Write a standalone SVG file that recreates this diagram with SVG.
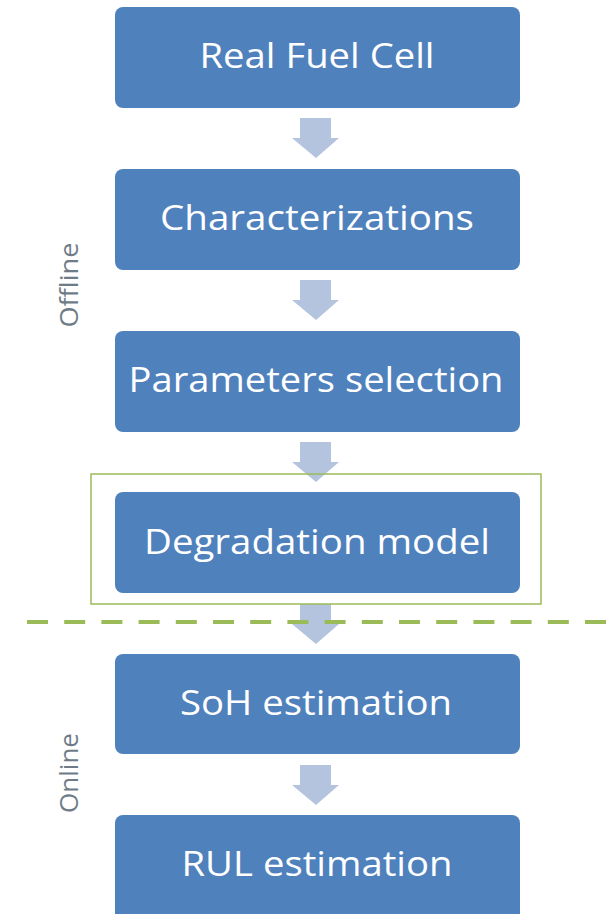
<svg xmlns="http://www.w3.org/2000/svg" width="611" height="914" viewBox="0 0 611 914">
<style>
.box{fill:#4F81BD;}
.lbl{font-family:"Open Sans","Noto Sans",sans-serif;font-size:35px;fill:#FFFFFF;text-anchor:middle;}
.arr{fill:#B4C4DF;}
.side{font-family:"Open Sans","Noto Sans",sans-serif;font-size:25px;fill:#6F7C87;text-anchor:middle;}
</style>
<defs>
<path id="dn" d="M-16,0 H15 V20 H23 L0,40 L-24,20 H-16 Z"/>
</defs>
<g id="connectors">
<use href="#dn" class="arr" x="316" y="118"/>
<use href="#dn" class="arr" x="316" y="280"/>
<use href="#dn" class="arr" x="316" y="442"/>
<use href="#dn" class="arr" x="316" y="604"/>
<use href="#dn" class="arr" x="316" y="765"/>
</g>
<g id="n1"><rect class="box" x="115" y="7" width="405" height="101" rx="8"/><text class="lbl" x="317" y="68" textLength="235" lengthAdjust="spacingAndGlyphs">Real Fuel Cell</text></g>
<g id="n2"><rect class="box" x="115" y="169" width="405" height="101" rx="8"/><text class="lbl" x="317" y="230" textLength="314" lengthAdjust="spacingAndGlyphs">Characterizations</text></g>
<g id="n3"><rect class="box" x="115" y="331" width="405" height="101" rx="8"/><text class="lbl" x="316" y="392" textLength="375" lengthAdjust="spacingAndGlyphs">Parameters selection</text></g>
<g id="n4"><rect class="box" x="115" y="492" width="405" height="101" rx="8"/><text class="lbl" x="317" y="554" textLength="346" lengthAdjust="spacingAndGlyphs">Degradation model</text></g>
<g id="frame"><rect x="91" y="474" width="450" height="130" fill="none" stroke="#9BBB59" stroke-width="1.5"/></g>
<g id="divider"><line x1="27" y1="622" x2="611" y2="622" stroke="#9BBB59" stroke-width="4" stroke-dasharray="21,16.2"/></g>
<g id="n5"><rect class="box" x="115" y="654" width="405" height="100" rx="8"/><text class="lbl" x="316" y="715" textLength="272" lengthAdjust="spacingAndGlyphs">SoH estimation</text></g>
<g id="n6"><rect class="box" x="115" y="815" width="405" height="106" rx="8"/><text class="lbl" x="317" y="876" textLength="271" lengthAdjust="spacingAndGlyphs">RUL estimation</text></g>
<g id="offline"><text class="side" transform="translate(78,285) rotate(-90)" textLength="85" lengthAdjust="spacingAndGlyphs">Offline</text></g>
<g id="online"><text class="side" transform="translate(78,773) rotate(-90)" textLength="80" lengthAdjust="spacingAndGlyphs">Online</text></g>
</svg>
